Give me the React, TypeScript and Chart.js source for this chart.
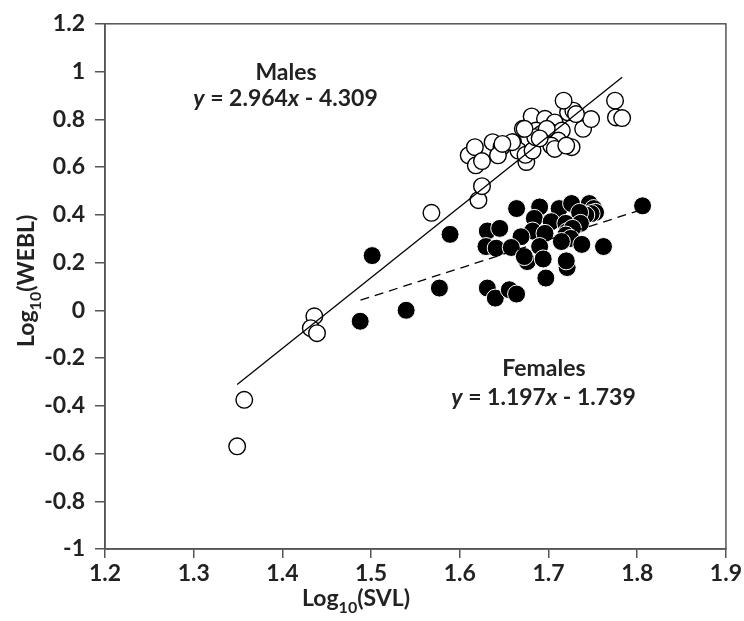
import React, { useEffect, useRef } from "react";
import { Chart, registerables } from "chart.js";

Chart.register(...registerables);

const xTicks = [1.2, 1.3, 1.4, 1.5, 1.6, 1.7, 1.8, 1.9];
const yTicks = [-1, -0.8, -0.6, -0.4, -0.2, 0, 0.2, 0.4, 0.6, 0.8, 1, 1.2];

const malesX = [1.349, 1.357, 1.436, 1.432, 1.439, 1.568, 1.621, 1.625, 1.610, 1.617, 1.618, 1.625, 1.637, 1.647, 1.643, 1.660, 1.666, 1.675, 1.674, 1.682, 1.671, 1.681, 1.696, 1.707, 1.686, 1.692, 1.685, 1.700, 1.707, 1.715, 1.711, 1.703, 1.707, 1.726, 1.720, 1.739, 1.748, 1.722, 1.728, 1.731, 1.717, 1.775, 1.776, 1.783, 1.673, 1.698, 1.690, 1.659, 1.648];
const malesY = [-0.57, -0.375, -0.025, -0.075, -0.096, 0.408, 0.461, 0.52, 0.649, 0.683, 0.607, 0.625, 0.704, 0.683, 0.649, 0.704, 0.669, 0.621, 0.651, 0.669, 0.760, 0.812, 0.802, 0.787, 0.753, 0.739, 0.725, 0.753, 0.739, 0.753, 0.711, 0.690, 0.676, 0.683, 0.690, 0.760, 0.801, 0.829, 0.836, 0.822, 0.878, 0.878, 0.808, 0.805, 0.760, 0.760, 0.720, 0.704, 0.697];

const femalesX = [1.806, 1.589, 1.577, 1.664, 1.690, 1.712, 1.726, 1.746, 1.751, 1.753, 1.748, 1.742, 1.735, 1.684, 1.703, 1.7195, 1.736, 1.631, 1.645, 1.682, 1.696, 1.721, 1.727, 1.669, 1.7195, 1.725, 1.6295, 1.641, 1.658, 1.690, 1.7145, 1.7375, 1.762, 1.676, 1.694, 1.721, 1.720, 1.6727, 1.697, 1.631, 1.640, 1.6558, 1.664, 1.5012, 1.5395, 1.4877];
const femalesY = [0.4375, 0.318, 0.093, 0.426, 0.433, 0.426, 0.447, 0.447, 0.426, 0.41, 0.405, 0.399, 0.41, 0.385, 0.371, 0.364, 0.364, 0.332, 0.343, 0.332, 0.322, 0.329, 0.343, 0.308, 0.315, 0.301, 0.267, 0.26, 0.263, 0.267, 0.288, 0.276, 0.267, 0.204, 0.215, 0.179, 0.207, 0.225, 0.135, 0.093, 0.051, 0.086, 0.068, 0.229, 0.0, -0.046];

const maleFitX = [1.349, 1.783];
const maleSlope = 2.964;
const maleIntercept = -4.309;
const femaleFitX = [1.488, 1.81];
const femaleSlope = 1.197;
const femaleIntercept = -1.739;

const FONT = "Lato, 'Open Sans', sans-serif";
const TEXT_SIZE = 23;

const overlayPlugin = {
  id: "overlay",
  afterDraw(chart: any) {
    const ctx: CanvasRenderingContext2D = chart.ctx;
    const a = chart.chartArea;
    ctx.save();
    ctx.strokeStyle = "#555";
    ctx.lineWidth = 1.5;
    ctx.strokeRect(a.left, a.top, a.right - a.left, a.bottom - a.top);

    ctx.fillStyle = "#222";
    ctx.textBaseline = "alphabetic";

    const bold = (s: number, italic = false) => `${italic ? "italic " : ""}bold ${s}px ${FONT}`;

    const drawSeq = (parts: [string, boolean][], x: number, y: number, size: number) => {
      let total = 0;
      for (const [t, it] of parts) {
        ctx.font = bold(size, it);
        total += ctx.measureText(t).width;
      }
      let cx = x - total / 2;
      ctx.textAlign = "left";
      for (const [t, it] of parts) {
        ctx.font = bold(size, it);
        ctx.fillText(t, cx, y);
        cx += ctx.measureText(t).width;
      }
    };

    drawSeq([["Males", false]], 286, 80, TEXT_SIZE);
    drawSeq([["y", true], [" = 2.964", false], ["x", true], [" - 4.309", false]], 285.5, 106, TEXT_SIZE);
    drawSeq([["Females", false]], 544, 376, TEXT_SIZE);
    drawSeq([["y", true], [" = 1.197", false], ["x", true], [" - 1.739", false]], 543.5, 405, TEXT_SIZE);

    const drawLogTitle = (x: number, y: number, tail: string) => {
      ctx.textAlign = "left";
      ctx.font = bold(TEXT_SIZE);
      ctx.fillText("Log", x, y);
      let cx = x + ctx.measureText("Log").width;
      ctx.font = bold(16);
      ctx.fillText("10", cx, y + 7);
      cx += ctx.measureText("10").width;
      ctx.font = bold(TEXT_SIZE);
      ctx.fillText(tail, cx, y);
    };
    drawLogTitle(302, 606, "(SVL)");
    ctx.save();
    ctx.translate(34, 347);
    ctx.rotate(-Math.PI / 2);
    drawLogTitle(0, 0, "(WEBL)");
    ctx.restore();

    ctx.restore();
  },
};

export default function App() {
  const ref = useRef<HTMLCanvasElement | null>(null);
  useEffect(() => {
    if (!ref.current) return;
    const males = malesX.map((x, i) => ({ x, y: malesY[i] }));
    const females = femalesX.map((x, i) => ({ x, y: femalesY[i] }));
    const maleLine = maleFitX.map((x) => ({ x, y: maleSlope * x + maleIntercept }));
    const femaleLine = femaleFitX.map((x) => ({ x, y: femaleSlope * x + femaleIntercept }));
    const tickFont = { family: FONT, size: TEXT_SIZE, weight: "bold" as const };
    const chart = new Chart(ref.current, {
      type: "scatter",
      data: {
        datasets: [
          {
            type: "line",
            data: maleLine,
            borderColor: "#000",
            borderWidth: 1.3,
            pointRadius: 0,
            fill: false,
          } as any,
          {
            type: "line",
            data: femaleLine,
            borderColor: "#000",
            borderWidth: 1.3,
            borderDash: [9, 6],
            pointRadius: 0,
            fill: false,
          } as any,
          {
            data: females,
            pointRadius: 9,
            pointBackgroundColor: "#000",
            pointBorderColor: "#fff",
            pointBorderWidth: 1,
          },
          {
            data: males,
            pointRadius: 8.3,
            pointBackgroundColor: "#fff",
            pointBorderColor: "#000",
            pointBorderWidth: 1.4,
          },
        ],
      },
      options: {
        animation: false,
        responsive: true,
        maintainAspectRatio: false,
        layout: { padding: { top: 21, right: 18, left: 0, bottom: 0 } },
        plugins: { legend: { display: false }, tooltip: { enabled: false } },
        scales: {
          x: {
            type: "linear",
            min: 1.2,
            max: 1.9,
            afterFit: (s: any) => {
              s.height = 72;
            },
            afterBuildTicks: (s: any) => {
              s.ticks = xTicks.map((v) => ({ value: v }));
            },
            ticks: {
              color: "#222",
              font: tickFont,
              padding: 2,
              callback: (v: any) => String(Math.round(Number(v) * 10) / 10),
            },
            grid: { drawOnChartArea: false, drawTicks: true, tickLength: 9, color: "#555", lineWidth: 1.5 },
            border: { display: true, color: "#555", width: 1.5 },
          },
          y: {
            type: "linear",
            min: -1,
            max: 1.2,
            afterFit: (s: any) => {
              s.width = 105;
            },
            afterBuildTicks: (s: any) => {
              s.ticks = yTicks.map((v) => ({ value: v }));
            },
            ticks: {
              color: "#222",
              font: tickFont,
              padding: 10,
              callback: (v: any) => String(Math.round(Number(v) * 10) / 10),
            },
            grid: { drawOnChartArea: false, drawTicks: true, tickLength: 10, color: "#555", lineWidth: 1.5 },
            border: { display: true, color: "#555", width: 1.5 },
          },
        },
      },
      plugins: [overlayPlugin],
    });
    return () => chart.destroy();
  }, []);
  return (
    <div style={{ position: "fixed", left: 0, top: 0, width: 744, height: 621, background: "#fff" }}>
      <canvas ref={ref} />
    </div>
  );
}
